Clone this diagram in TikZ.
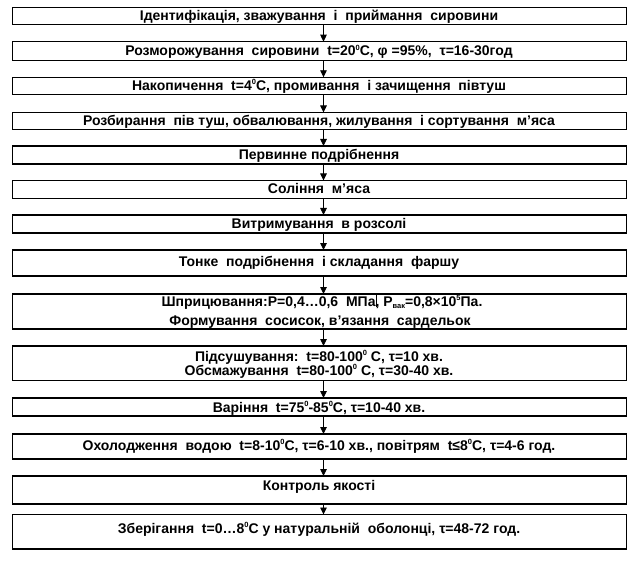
\documentclass[tikz,border=0pt]{standalone}
\usepackage{fontspec}
\setmainfont{Liberation Sans}
\usetikzlibrary{arrows.meta}
\newcommand\supr[1]{\raisebox{0.38em}{\fontsize{7.5}{7.5}\selectfont #1}}
\newcommand\subr[1]{\raisebox{-0.15em}{\fontsize{7.5}{7.5}\selectfont #1}}
\newcommand\sz{\supr{0}}
\newcommand\cursormark{\makebox[0pt][l]{\hspace{0.6pt}\rule[-1pt]{0.9pt}{12pt}}}
\begin{document}
\begin{tikzpicture}[x=1pt,y=-1pt,
  box/.style={draw,line width=1.3pt,inner sep=0pt,outer sep=0pt,minimum width=614.2pt},
  lbl/.style={font=\fontsize{14}{16}\selectfont\bfseries,inner sep=0pt,anchor=base},
  flow/.style={-{Triangle[length=7pt,width=6.5pt]},line width=0.9pt}]
\useasboundingbox (0,0) rectangle (639,561);
% boxes
\node[box,minimum height=17pt]   (b1)  at (319.4,15.8)   {};
\node[box,minimum height=18.6pt] (b2)  at (319.4,51)     {};
\node[box,minimum height=17pt]   (b3)  at (319.4,85.8)   {};
\node[box,minimum height=17pt]   (b4)  at (319.4,121)    {};
\node[box,minimum height=18pt]   (b5)  at (319.4,155)    {};
\node[box,minimum height=17.8pt] (b6)  at (319.4,189.4)  {};
\node[box,minimum height=18pt]   (b7)  at (319.4,224)    {};
\node[box,minimum height=26pt]   (b8)  at (319.4,263)    {};
\node[box,minimum height=35pt]   (b9)  at (319.4,311.5)  {};
\node[box,minimum height=34.5pt] (b10) at (319.4,363.25) {};
\node[box,minimum height=18pt]   (b11) at (319.4,407)    {};
\node[box,minimum height=25pt]   (b12) at (319.4,446.5)  {};
\node[box,minimum height=28pt]   (b13) at (319.4,490)    {};
\node[box,minimum height=34.5pt] (b14) at (319.4,531.75) {};
% texts
\node[lbl] (t1)  at (319,20.5)  {Ідентифікація, зважування\ \ і\ \ приймання\ \ сировини};
\node[lbl] (t2)  at (319,55.5)  {Розморожування\ \ сировини\ \ t=20\sz С, φ =95\%,\ \ τ=16-30год};
\node[lbl] (t3)  at (319,90.3)  {Накопичення\ \ t=4\sz С, промивання\ \ і зачищення\ \ півтуш};
\node[lbl] (t4)  at (319,125.5) {Розбирання\ \ пів туш, обвалювання, жилування\ \ і сортування\ \ м’яса};
\node[lbl] (t5)  at (319,159.5) {Первинне подрібнення};
\node[lbl] (t6)  at (319,194)   {Соління\ \ м’яса};
\node[lbl] (t7)  at (319,228.5) {Витримування\ \ в розсолі};
\node[lbl] (t8)  at (319,266.7) {Тонке\ \ подрібнення\ \ і складання\ \ фаршу};
\node[lbl] (t9a) at (322,306)   {Шприцювання:Р=0,4…0,6\ \ МПа\cursormark, Р\subr{вак}=0,8×10\supr{5}Па.};
\node[lbl] (t9b) at (320,325)   {Формування\ \ сосисок, в’язання\ \ сардельок};
\node[lbl] (t10a) at (319,361)  {Підсушування:\ \ t=80-100\sz\ С, τ=10 хв.};
\node[lbl] (t10b) at (319,375)  {Обсмажування\ \ t=80-100\sz\ С, τ=30-40 хв.};
\node[lbl] (t11) at (319,412)   {Варіння\ \ t=75\sz-85\sz С, τ=10-40 хв.};
\node[lbl] (t12) at (319,450)   {Охолодження\ \ водою\ \ t=8-10\sz С, τ=6-10 хв., повітрям\ \ t≤8\sz С, τ=4-6 год.};
\node[lbl] (t13) at (319,490.7) {Контроль якості};
\node[lbl] (t14) at (319,533.3) {Зберігання\ \ t=0…8\sz С у натуральній\ \ оболонці, τ=48-72 год.};
% arrows
\foreach \a/\b in {b1/b2,b2/b3,b3/b4,b4/b5,b5/b6,b6/b7,b7/b8,b8/b9,b9/b10,b10/b11,b11/b12,b12/b13,b13/b14}
  \draw[flow] ([xshift=4.1pt]\a.south) -- ([xshift=4.1pt]\b.north);
\end{tikzpicture}
\end{document}
